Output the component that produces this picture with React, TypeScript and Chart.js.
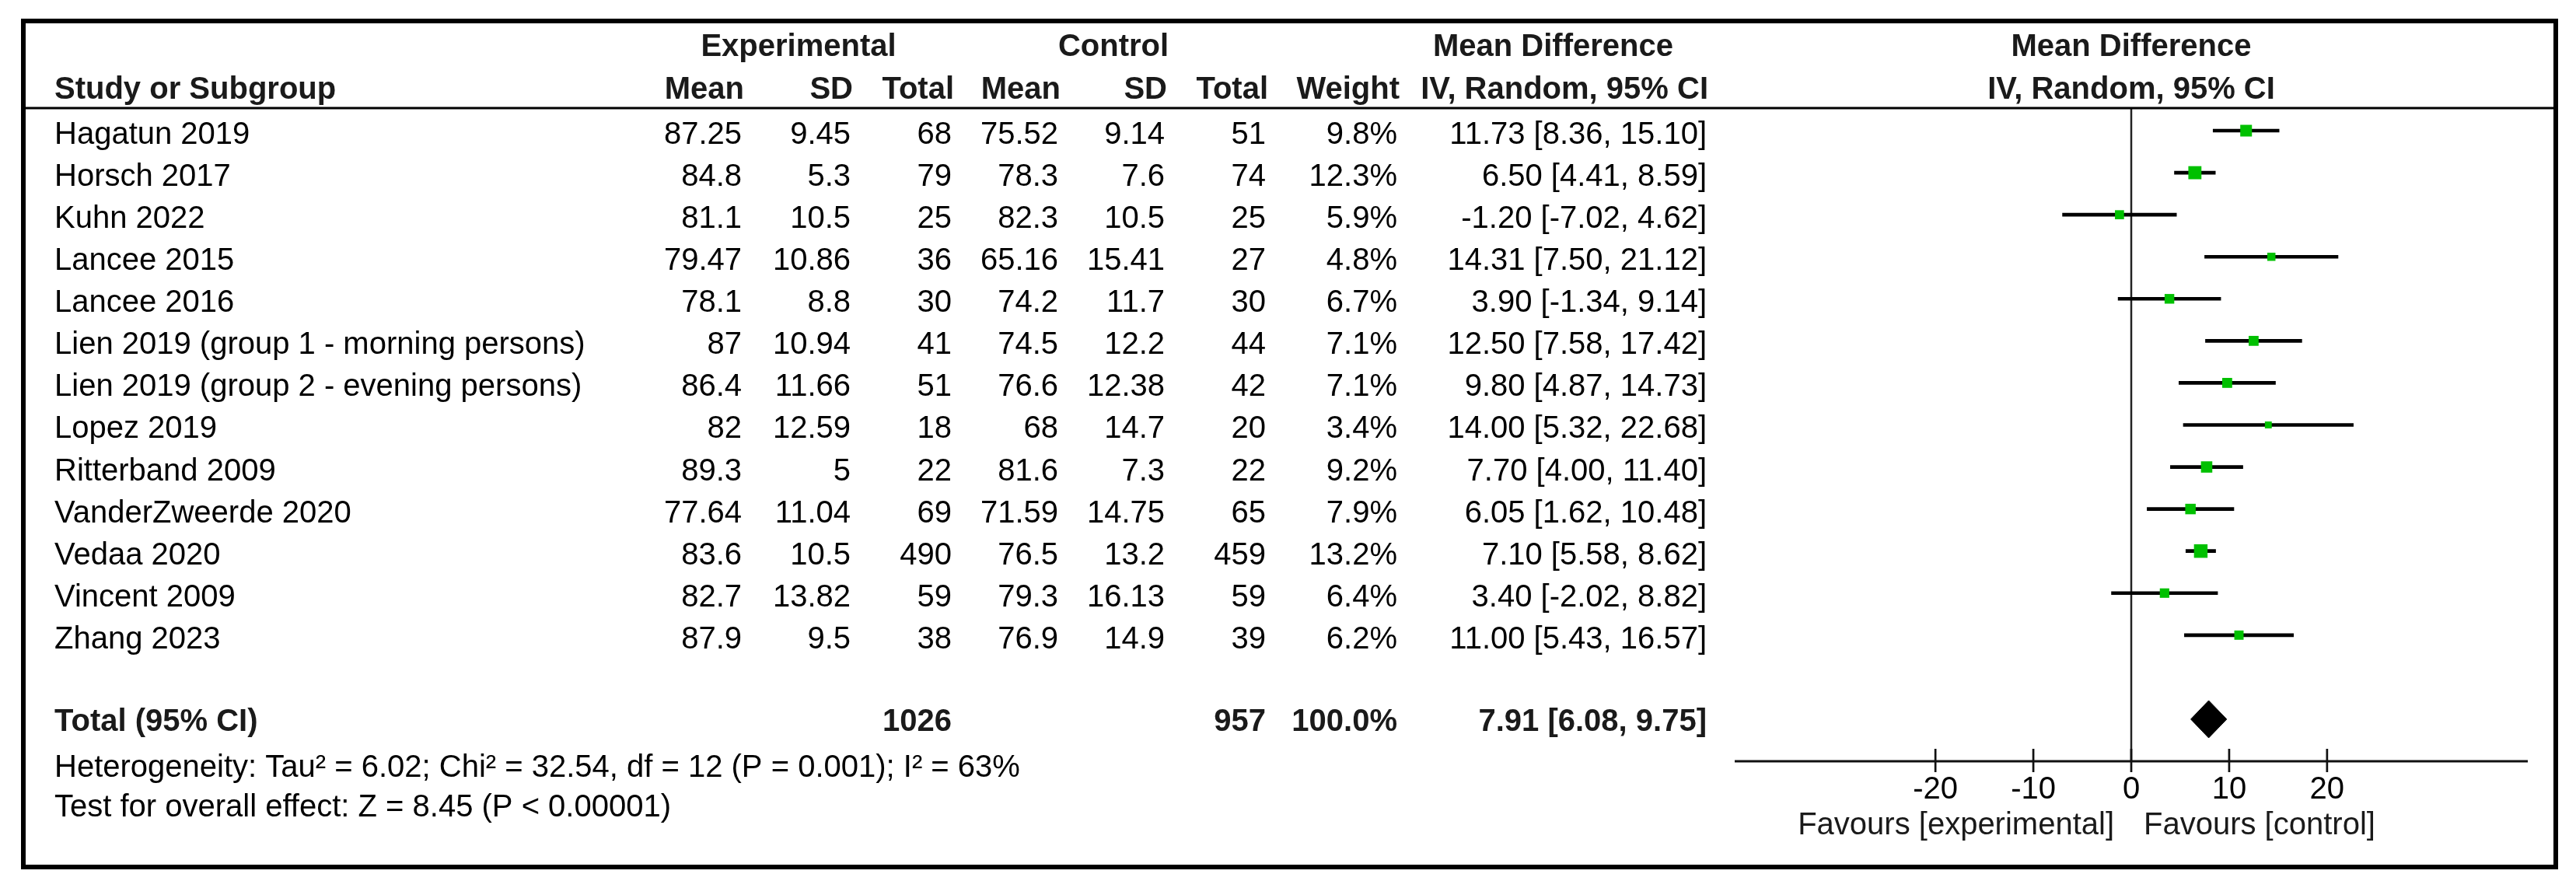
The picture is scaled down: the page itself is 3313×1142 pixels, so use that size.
import React, { useEffect, useRef } from "react";
import { Chart, registerables } from "chart.js";

Chart.register(...registerables);

// ---------- data ----------
const studies = [
  "Hagatun 2019",
  "Horsch 2017",
  "Kuhn 2022",
  "Lancee 2015",
  "Lancee 2016",
  "Lien 2019 (group 1 - morning persons)",
  "Lien 2019 (group 2 - evening persons)",
  "Lopez 2019",
  "Ritterband 2009",
  "VanderZweerde 2020",
  "Vedaa 2020",
  "Vincent 2009",
  "Zhang 2023",
];
const expMean = [87.25, 84.8, 81.1, 79.47, 78.1, 87, 86.4, 82, 89.3, 77.64, 83.6, 82.7, 87.9];
const expSD = [9.45, 5.3, 10.5, 10.86, 8.8, 10.94, 11.66, 12.59, 5, 11.04, 10.5, 13.82, 9.5];
const expN = [68, 79, 25, 36, 30, 41, 51, 18, 22, 69, 490, 59, 38];
const ctrlMean = [75.52, 78.3, 82.3, 65.16, 74.2, 74.5, 76.6, 68, 81.6, 71.59, 76.5, 79.3, 76.9];
const ctrlSD = [9.14, 7.6, 10.5, 15.41, 11.7, 12.2, 12.38, 14.7, 7.3, 14.75, 13.2, 16.13, 14.9];
const ctrlN = [51, 74, 25, 27, 30, 44, 42, 20, 22, 65, 459, 59, 39];
const weights = [9.8, 12.3, 5.9, 4.8, 6.7, 7.1, 7.1, 3.4, 9.2, 7.9, 13.2, 6.4, 6.2];
const meanDiff = [11.73, 6.5, -1.2, 14.31, 3.9, 12.5, 9.8, 14.0, 7.7, 6.05, 7.1, 3.4, 11.0];
const ciLow = [8.36, 4.41, -7.02, 7.5, -1.34, 7.58, 4.87, 5.32, 4.0, 1.62, 5.58, -2.02, 5.43];
const ciHigh = [15.1, 8.59, 4.62, 21.12, 9.14, 17.42, 14.73, 22.68, 11.4, 10.48, 8.62, 8.82, 16.57];

const totalExpN = 1026;
const totalCtrlN = 957;
const totalWeight = 100.0;
const pooledMD = 7.91;
const pooledLow = 6.08;
const pooledHigh = 9.75;

const xTicks = [-20, -10, 0, 10, 20];
const xMin = -40.5;
const xMax = 40.5;

const heterogeneityText =
  "Heterogeneity: Tau\u00B2 = 6.02; Chi\u00B2 = 32.54, df = 12 (P = 0.001); I\u00B2 = 63%";
const overallText = "Test for overall effect: Z = 8.45 (P < 0.00001)";
const favLeft = "Favours [experimental]";
const favRight = "Favours [control]";

const TOTAL_ROW = 14;

// ---------- styles ----------
const W = 3313;
const H = 1142;
const FONT = '"Liberation Sans", Arial, sans-serif';
const REG = `40px ${FONT}`;
const BOLD = `bold 40px ${FONT}`;
const GREEN = "#00c000";

// column right edges (headers)
const COL = {
  study: 70,
  expMean: 957,
  expSD: 1097,
  expN: 1227,
  ctrlMean: 1364,
  ctrlSD: 1501,
  ctrlN: 1631,
  weight: 1800,
  ci: 2195,
};

const fmtCI = (m: number, l: number, h: number) =>
  `${m.toFixed(2)} [${l.toFixed(2)}, ${h.toFixed(2)}]`;

const forestPlugin = {
  id: "forestTable",
  beforeDatasetsDraw(chart: any) {
    const { ctx, scales, chartArea } = chart;
    const x = scales.x;
    const zx = x.getPixelForValue(0);
    ctx.save();
    ctx.strokeStyle = "#222";
    ctx.lineWidth = 2.5;
    ctx.beginPath();
    ctx.moveTo(zx, chartArea.top);
    ctx.lineTo(zx, chartArea.bottom);
    ctx.stroke();
    ctx.restore();
  },
  afterDraw(chart: any) {
    const { ctx, scales, chartArea } = chart;
    const x = scales.x;
    const y = scales.y;
    ctx.save();

    // outer frame
    ctx.strokeStyle = "#000";
    ctx.lineWidth = 6;
    ctx.strokeRect(30, 27, 3257, 1088);

    // header separator
    ctx.lineWidth = 3;
    ctx.beginPath();
    ctx.moveTo(30, chartArea.top);
    ctx.lineTo(3287, chartArea.top);
    ctx.stroke();

    const text = (s: string, px: number, py: number, align: CanvasTextAlign, font: string, color = "#000") => {
      ctx.font = font;
      ctx.fillStyle = color;
      ctx.textAlign = align;
      ctx.textBaseline = "alphabetic";
      ctx.fillText(s, px, py);
    };

    const HC = "#1a1a1a";
    const zx = x.getPixelForValue(0);
    // headers
    text("Experimental", 1027, 72, "center", BOLD, HC);
    text("Control", 1432, 72, "center", BOLD, HC);
    text("Mean Difference", 1843, 72, "left", BOLD, HC);
    text("Mean Difference", zx, 72, "center", BOLD, HC);
    text("Study or Subgroup", COL.study, 127, "left", BOLD, HC);
    text("Mean", COL.expMean, 127, "right", BOLD, HC);
    text("SD", COL.expSD, 127, "right", BOLD, HC);
    text("Total", COL.expN, 127, "right", BOLD, HC);
    text("Mean", COL.ctrlMean, 127, "right", BOLD, HC);
    text("SD", COL.ctrlSD, 127, "right", BOLD, HC);
    text("Total", COL.ctrlN, 127, "right", BOLD, HC);
    text("Weight", COL.weight, 127, "right", BOLD, HC);
    text("IV, Random, 95% CI", 2197, 127, "right", BOLD, HC);
    text("IV, Random, 95% CI", zx, 127, "center", BOLD, HC);

    // rows
    const d = 3;
    studies.forEach((s, i) => {
      const by = y.getPixelForValue(i) + 17;
      text(s, COL.study, by, "left", REG);
      text(String(expMean[i]), COL.expMean - d, by, "right", REG);
      text(String(expSD[i]), COL.expSD - d, by, "right", REG);
      text(String(expN[i]), COL.expN - d, by, "right", REG);
      text(String(ctrlMean[i]), COL.ctrlMean - d, by, "right", REG);
      text(String(ctrlSD[i]), COL.ctrlSD - d, by, "right", REG);
      text(String(ctrlN[i]), COL.ctrlN - d, by, "right", REG);
      text(`${weights[i].toFixed(1)}%`, COL.weight - d, by, "right", REG);
      text(fmtCI(meanDiff[i], ciLow[i], ciHigh[i]), COL.ci, by, "right", REG);
    });

    // total row
    const ty = y.getPixelForValue(TOTAL_ROW);
    const tb = ty + 15;
    text("Total (95% CI)", COL.study, tb, "left", BOLD, HC);
    text(String(totalExpN), COL.expN - d, tb, "right", BOLD, HC);
    text(String(totalCtrlN), COL.ctrlN - d, tb, "right", BOLD, HC);
    text(`${totalWeight.toFixed(1)}%`, COL.weight - d, tb, "right", BOLD, HC);
    text(fmtCI(pooledMD, pooledLow, pooledHigh), COL.ci, tb, "right", BOLD, HC);

    text(heterogeneityText, COL.study, ty + 74, "left", REG);
    text(overallText, COL.study, ty + 125, "left", REG);

    // x axis
    const ab = chartArea.bottom;
    ctx.strokeStyle = "#111";
    ctx.lineWidth = 3;
    ctx.beginPath();
    ctx.moveTo(chartArea.left, ab);
    ctx.lineTo(chartArea.right, ab);
    ctx.stroke();
    ctx.lineWidth = 2.7;
    xTicks.forEach((v) => {
      const px = x.getPixelForValue(v);
      ctx.beginPath();
      ctx.moveTo(px, ab - 16);
      ctx.lineTo(px, ab + 14);
      ctx.stroke();
      text(String(v), px, ab + 48, "center", REG);
    });
    text(favLeft, zx - 22, ab + 94, "right", REG, HC);
    text(favRight, zx + 16, ab + 94, "left", REG, HC);

    ctx.restore();
  },
};

export default function App() {
  const ref = useRef<HTMLCanvasElement | null>(null);

  useEffect(() => {
    document.body.style.margin = "0";
    document.body.style.overflow = "hidden";
    const canvas = ref.current;
    if (!canvas) return;

    const squares = meanDiff.map((m, i) => ({ x: m, y: i }));
    const squareRadius = weights.map((w) => (4.8 * Math.sqrt(w)) / Math.SQRT2);
    const ciBars = ciLow.map((l, i) => ({ x: [l, ciHigh[i]], y: i }));
    const dh = 0.444;
    const diamondTop = [
      { x: pooledLow, y: TOTAL_ROW },
      { x: pooledMD, y: TOTAL_ROW - dh },
      { x: pooledHigh, y: TOTAL_ROW },
    ];
    const diamondBottom = [
      { x: pooledLow, y: TOTAL_ROW },
      { x: pooledMD, y: TOTAL_ROW + dh },
      { x: pooledHigh, y: TOTAL_ROW },
    ];

    const chart = new Chart(canvas, {
      type: "scatter",
      data: {
        datasets: [
          {
            type: "scatter",
            data: squares,
            pointStyle: "rect",
            pointRadius: squareRadius,
            backgroundColor: GREEN,
            borderWidth: 0,
            order: 0,
          } as any,
          {
            type: "bar",
            indexAxis: "y",
            data: ciBars,
            backgroundColor: "#000",
            borderWidth: 0,
            barThickness: 4,
            order: 1,
          } as any,
          {
            type: "line",
            data: diamondTop,
            borderColor: "#000",
            backgroundColor: "#000",
            borderWidth: 1,
            pointRadius: 0,
            tension: 0,
            fill: { value: TOTAL_ROW },
            order: 2,
          } as any,
          {
            type: "line",
            data: diamondBottom,
            borderColor: "#000",
            backgroundColor: "#000",
            borderWidth: 1,
            pointRadius: 0,
            tension: 0,
            fill: { value: TOTAL_ROW },
            order: 2,
          } as any,
        ],
      },
      options: {
        responsive: false,
        animation: false,
        events: [],
        devicePixelRatio: 1,
        layout: { padding: { left: 2231, right: 62, top: 139, bottom: 163 } },
        plugins: { legend: { display: false }, tooltip: { enabled: false } },
        scales: {
          x: { type: "linear", min: xMin, max: xMax, display: false, offset: false },
          y: { type: "linear", min: -0.537, max: 15, reverse: true, display: false, offset: false },
        },
      } as any,
      plugins: [forestPlugin],
    });

    return () => chart.destroy();
  }, []);

  return (
    <canvas ref={ref} width={W} height={H} style={{ display: "block", width: W, height: H }} />
  );
}
